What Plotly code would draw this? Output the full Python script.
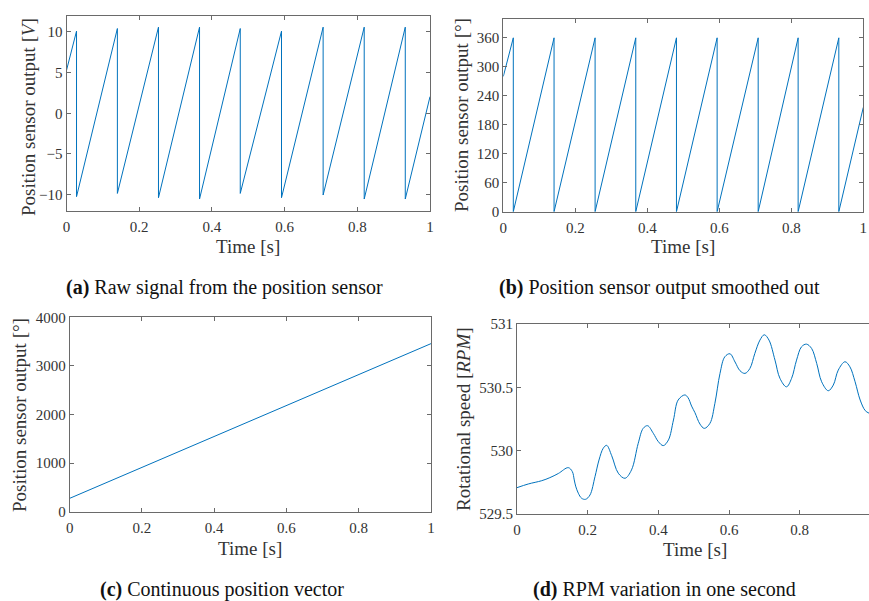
import plotly.graph_objects as go

W, H = 869, 601

# ---------- data ----------
# (a) raw sensor signal [V]
a_start_t, a_start_v = 0.0, 5.27
a_jump_t = [0.0276, 0.140, 0.253, 0.366, 0.478, 0.5915, 0.706, 0.819, 0.932]
a_peak_v = [10.08, 10.4, 10.57, 10.57, 10.4, 10.08, 10.57, 10.57, 10.57]
a_trough_v = [-10.24, -9.84, -10.37, -10.53, -9.84, -10.37, -10.04, -10.53, -10.53]
a_end_t, a_end_v = 1.0, 2.04

# (b) smoothed sensor output [deg]
b_start_t, b_start_v = 0.0, 280.0
b_jump_t = [0.0278, 0.141, 0.255, 0.368, 0.481, 0.594, 0.708, 0.819, 0.932]
b_peak_v = [360, 360, 360, 360, 360, 360, 360, 360, 360]
b_trough_v = [0, 0, 0, 0, 0, 0, 0, 0, 0]
b_end_t, b_end_v = 1.0, 216.0

# (c) continuous position [deg]
c_t = [0.0, 1.0]
c_v = [275.0, 3458.0]

# (d) rotational speed [RPM]
d_t = [0, 0.032, 0.070, 0.093, 0.117, 0.145, 0.1565, 0.162, 0.166, 0.1735,
       0.183, 0.194, 0.2065, 0.2207, 0.232, 0.244, 0.2537, 0.268, 0.2866,
       0.3055, 0.324, 0.343, 0.357, 0.3696, 0.3857, 0.400, 0.4139, 0.4286,
       0.4427, 0.456, 0.475, 0.484, 0.494, 0.5035, 0.5177, 0.530, 0.546, 0.560,
       0.5744, 0.588, 0.6026, 0.617, 0.631, 0.645, 0.659, 0.673, 0.6874,
       0.6997, 0.713, 0.730, 0.744, 0.7625, 0.777, 0.791, 0.805, 0.819,
       0.8336, 0.848, 0.862, 0.8807, 0.895, 0.909, 0.928, 0.942, 0.9566,
       0.971, 0.9854, 0.9967]
d_v = [529.708, 529.737, 529.763, 529.787, 529.82, 529.866, 529.835, 529.769,
       529.72, 529.664, 529.624, 529.616, 529.65, 529.795, 529.926, 530.019,
       530.042, 529.96, 529.822, 529.782, 529.848, 530.058, 530.176, 530.197,
       530.137, 530.071, 530.04, 530.085, 530.242, 530.40, 530.44, 530.418,
       530.352, 530.30, 530.21, 530.176, 530.216, 530.374, 530.61, 530.741,
       530.765, 530.70, 530.631, 530.61, 530.649, 530.768, 530.873, 530.915,
       530.873, 530.715, 530.571, 530.504, 530.571, 530.715, 530.82, 530.841,
       530.807, 530.689, 530.544, 530.473, 530.518, 530.636, 530.702, 530.662,
       530.544, 530.40, 530.316, 530.295]

x_ticks = [0, 0.2, 0.4, 0.6, 0.8, 1]
x_ticklabels = ["0", "0.2", "0.4", "0.6", "0.8", "1"]
a_yticks = [-10, -5, 0, 5, 10]
b_yticks = [0, 60, 120, 180, 240, 300, 360]
c_yticks = [0, 1000, 2000, 3000, 4000]
d_yticks = [529.5, 530, 530.5, 531]
d_yticklabels = ["529.5", "530", "530.5", "531"]

ylabels = ["Position sensor output [<i>V</i>]",
           "Position sensor output [°]",
           "Position sensor output [°]",
           "Rotational speed [<i>RPM</i>]"]
xlabel = "Time [s]"
captions = ["<b>(a)</b> Raw signal from the position sensor",
            "<b>(b)</b> Position sensor output smoothed out",
            "<b>(c)</b> Continuous position vector",
            "<b>(d)</b> RPM variation in one second"]


def saw(t0, v0, jt, pk, tr, t1, v1):
    xs, ys = [t0], [v0]
    for t, p, q in zip(jt, pk, tr):
        xs += [t, t]
        ys += [p, q]
    xs.append(t1)
    ys.append(v1)
    return xs, ys


ax_x, ax_y = saw(a_start_t, a_start_v, a_jump_t, a_peak_v, a_trough_v, a_end_t, a_end_v)
bx_x, bx_y = saw(b_start_t, b_start_v, b_jump_t, b_peak_v, b_trough_v, b_end_t, b_end_v)

LINE = dict(color="#0072BD", width=1)
fig = go.Figure()
fig.add_trace(go.Scatter(x=ax_x, y=ax_y, mode="lines", line=LINE, xaxis="x", yaxis="y"))
fig.add_trace(go.Scatter(x=bx_x, y=bx_y, mode="lines", line=LINE, xaxis="x2", yaxis="y2"))
fig.add_trace(go.Scatter(x=c_t, y=c_v, mode="lines", line=LINE, xaxis="x3", yaxis="y3"))
fig.add_trace(go.Scatter(x=d_t, y=d_v, mode="lines",
                         line=dict(color="#0072BD", width=1, shape="spline", smoothing=1.0),
                         xaxis="x4", yaxis="y4"))


def px_dom(x0, x1):
    return [x0 / W, min(x1 / W, 1.0)]


def py_dom(top, bottom):
    return [1 - bottom / H, 1 - top / H]


TF = dict(family="Liberation Serif", size=15, color="#333333")
common = dict(showline=True, linecolor="#6a6a6a", linewidth=1, mirror="ticks",
              ticks="inside", ticklen=4, tickcolor="#6a6a6a", tickfont=TF,
              showgrid=False, zeroline=False, fixedrange=True, automargin=False)

def xax(dom, anchor, rng, tv=x_ticks, tt=x_ticklabels):
    d = dict(common)
    d.update(domain=dom, anchor=anchor, range=rng, tickvals=tv, ticktext=tt,
             ticklabelstandoff=2)
    return d

def yax(dom, anchor, rng, tv, tt=None):
    d = dict(common)
    d.update(domain=dom, anchor=anchor, range=rng, tickvals=tv,
             ticklabelstandoff=0)
    if tt is not None:
        d["ticktext"] = tt
    return d

d_y = yax(py_dom(324, 514), "x4", [529.5, 531], d_yticks, d_yticklabels)
d_y["mirror"] = False
d_x = xax(px_dom(517, 869), "y4", [0, 0.996])

fig.update_layout(
    width=W, height=H, margin=dict(l=0, r=0, t=0, b=0, pad=0, autoexpand=False),
    paper_bgcolor="white", plot_bgcolor="white", showlegend=False,
    xaxis=xax(px_dom(66.5, 430), "y", [0, 1]),
    yaxis=yax(py_dom(15.5, 211), "x", [-12, 12], a_yticks),
    xaxis2=xax(px_dom(503.3, 863.3), "y2", [0, 1]),
    yaxis2=yax(py_dom(18.5, 211.7), "x2", [0, 400], b_yticks),
    xaxis3=xax(px_dom(69.7, 431), "y3", [0, 1]),
    yaxis3=yax(py_dom(317.3, 511.7), "x3", [0, 4000], c_yticks),
    xaxis4=d_x,
    yaxis4=d_y,
)

TTF = dict(family="Liberation Serif", size=19, color="#333333")
CF = dict(family="Liberation Serif", size=20, color="#111111")

def ann(x, y, text, font, angle=0):
    fig.add_annotation(x=x / W, y=1 - y / H, xref="paper", yref="paper",
                       text=text, showarrow=False, font=font, textangle=angle,
                       xanchor="center", yanchor="middle")

# y titles
ann(28, 117, ylabels[0], TTF, -90)
ann(461, 115, ylabels[1], TTF, -90)
ann(19, 415, ylabels[2], TTF, -90)
ann(463, 419, ylabels[3], TTF, -90)
# x titles
ann(248, 246, xlabel, TTF)
ann(683, 246, xlabel, TTF)
ann(250, 548, xlabel, TTF)
ann(695, 549, xlabel, TTF)
# captions
ann(224, 287, captions[0], CF)
ann(659, 287, captions[1], CF)
ann(222, 589, captions[2], CF)
ann(664, 589, captions[3], CF)

fig.write_html("out.html")
